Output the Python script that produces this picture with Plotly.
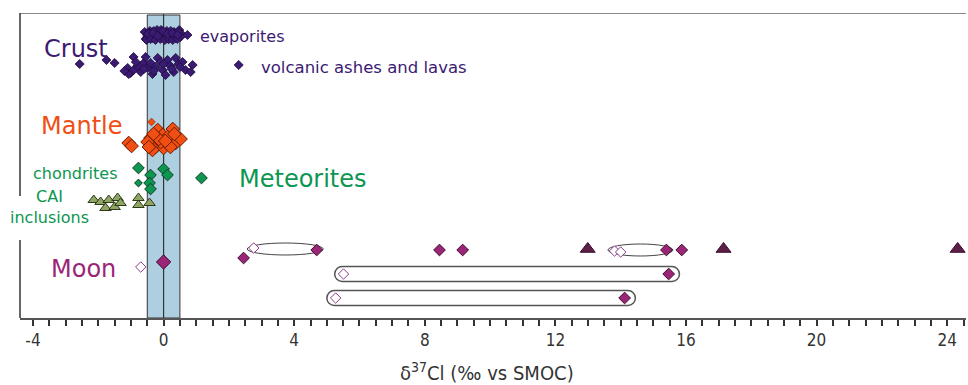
import plotly.graph_objects as go

# ---------------- data (x: delta37Cl permil; y: vertical slot position in the panel) ----------------
evap_x = [-0.58, -0.50, -0.42, -0.35, -0.28, -0.20, -0.12, -0.05, 0.02, 0.10, 0.18, 0.25, 0.32, 0.40, 0.48, 0.55,
          -0.55, -0.46, -0.38, -0.30, -0.22, -0.15, -0.08, 0.00, 0.06, 0.14, 0.22, 0.30, 0.37, 0.45, 0.52,
          -0.52, -0.40, -0.25, -0.10, 0.04, 0.16, 0.28, 0.42, 0.73,
          -0.48, -0.33, -0.18, -0.02, 0.12, 0.27, 0.43]
evap_y = [32, 36, 31, 38, 34, 30, 37, 33, 39, 31, 35, 38, 32, 36, 30, 34,
          39, 33, 35, 31, 38, 34, 30, 36, 33, 39, 31, 35, 38, 32, 37,
          40, 39, 40, 39, 40, 39, 40, 39, 35,
          34, 33, 36, 31, 34, 33, 35]

volc_x = [-2.57, -1.75, -1.50, -1.10, -1.01, -0.92, -0.80, -1.07, -0.70, -0.61, -0.92, -0.55, -0.49, -0.40,
          -0.34, -0.25, -0.18, -0.09, -0.03, 0.06, 0.12, 0.21, 0.31, 0.37, 0.46, 0.58, 0.67, 0.89, 0.83,
          -0.85, -0.60, -0.30, 0.00, 0.25, 0.50, -1.20, 2.30]
volc_y = [64, 60, 63, 68, 73, 70, 66, 74, 72, 63, 57, 57, 68, 63,
          74, 67, 58, 62, 70, 75, 60, 66, 72, 58, 64, 62, 70, 65, 72,
          62, 69, 71, 64, 69, 67, 71, 65]

mantle_x = [-1.07, -0.98, -0.40, -0.18, -0.03, 0.28, 0.43, 0.15, -0.25, 0.00, -0.34, 0.37, -0.49, -0.09,
            0.12, 0.52, -0.15, 0.21, -0.31, 0.05, -0.45, 0.33]
mantle_y = [143, 146, 138, 130, 135, 129, 138, 142, 147, 148, 150, 143, 142, 142,
            137, 139, 139, 147, 134, 141, 147, 134]
mantle_small_x = [-0.37]
mantle_small_y = [122]

chond_x = [-0.77, -0.40, -0.43, -0.40, 0.00, 0.12, 1.16]
chond_y = [168, 175, 183, 189, 169, 175, 178]
chond_small_x = [-0.77]
chond_small_y = [183]

cai_x = [-2.14, -1.93, -1.68, -1.41, -1.78, -1.50, -1.32, -0.77, -0.77, -0.43]
cai_y = [200, 202, 200, 198, 208, 207, 203, 198, 205, 203]

moon_open_x = [-0.70, 2.76, 13.81, 14.00, 5.51, 5.27]
moon_open_y = [267, 248, 251, 252, 274, 298]
moon_fill_x = [4.69, 2.45, 8.45, 9.16, 15.40, 15.87, 15.47, 14.12]
moon_fill_y = [250, 258, 250, 250, 250, 250, 274, 298]
moon_center_x = [0.0]
moon_center_y = [262]
moon_tri_x = [12.99, 17.15, 24.32]
moon_tri_y = [249, 249, 249]

# linked pairs (open -> filled) enclosed by an ellipse or a rounded bar
pair_lo = [2.76, 13.81, 5.51, 5.27]
pair_hi = [4.69, 15.40, 15.47, 14.12]
pair_y = [249, 250, 274, 298]
pair_kind = ["ellipse", "ellipse", "bar", "bar"]

band_lo, band_hi = -0.5, 0.5
tick_vals = [-4, 0, 4, 8, 12, 16, 20, 24]
tick_text = ["-4", "0", "4", "8", "12", "16", "20", "24"]

# ---------------- figure ----------------
X_RANGE = [-4.398, 24.576]
Y_RANGE = [318, 13]
PX_PER_UNIT = 32.65

CRUST = "#3b1a72"
MANTLE = "#f04e12"
GREEN = "#0c9650"
CAI = "#8ea563"
MOON = "#9b2577"
TRI = "#5e1f48"
OPEN = "#8a3a8a"

fig = go.Figure()

def add(x, y, symbol, size, fill, line_col, line_w=1):
    fig.add_trace(go.Scatter(x=x, y=y, mode="markers", hoverinfo="skip",
                             marker=dict(symbol=symbol, size=size, color=fill,
                                         line=dict(color=line_col, width=line_w))))

add(evap_x, evap_y, "diamond", 7, CRUST, "#1e0c40", 0.8)
add(volc_x, volc_y, "diamond", 7, CRUST, "#1e0c40", 0.8)
add(mantle_x, mantle_y, "diamond", 10.5, MANTLE, "#6a1c00", 1)
add(mantle_small_x, mantle_small_y, "diamond", 6, MANTLE, "#6a1c00", 0.5)
add(chond_x, chond_y, "diamond", 9, GREEN, "#0b3a22", 1)
add(chond_small_x, chond_small_y, "diamond", 6, GREEN, "#0b3a22", 1)
add(cai_x, cai_y, "triangle-up", 10, CAI, "#2e3a18", 1)
add(moon_open_x, moon_open_y, "diamond", 8, "white", OPEN, 1)
add(moon_fill_x, moon_fill_y, "diamond", 9, MOON, "#3a0a2a", 1)
add(moon_center_x, moon_center_y, "diamond", 11, MOON, "#3a0a2a", 1)
add(moon_tri_x, moon_tri_y, "triangle-up", 13, TRI, "#3a0a2a", 1)

shapes = []
# blue band and zero line
shapes.append(dict(type="rect", layer="below", x0=band_lo, x1=band_hi, y0=15, y1=318,
                   fillcolor="#aecfe0", line=dict(color="#333333", width=1)))
shapes.append(dict(type="line", layer="below", x0=0, x1=0, y0=13, y1=318,
                   line=dict(color="#333333", width=1.2)))
# frame: top and broken left line
shapes.append(dict(type="line", xref="paper", x0=0, x1=1, y0=13, y1=13,
                   line=dict(color="#8a8a8a", width=2)))
shapes.append(dict(type="line", xref="paper", x0=0, x1=0, y0=13, y1=196,
                   line=dict(color="#333333", width=1.5)))
shapes.append(dict(type="line", xref="paper", x0=0, x1=0, y0=240, y1=318,
                   line=dict(color="#333333", width=1.5)))

k = 0.5523
for lo, hi, yc, kind in zip(pair_lo, pair_hi, pair_y, pair_kind):
    if kind == "ellipse":
        shapes.append(dict(type="circle", layer="below", x0=lo - 0.2, x1=hi + 0.2,
                           y0=yc - 6, y1=yc + 6, line=dict(color="#444444", width=1)))
    else:
        r = 7.5
        rx = r / PX_PER_UNIT
        x0, x1 = lo - 0.27, hi + 0.33
        yt, yb = yc - r, yc + r
        p = (f"M {x0+rx},{yt} L {x1-rx},{yt} "
             f"C {x1-rx+k*rx},{yt} {x1},{yc-k*r} {x1},{yc} "
             f"C {x1},{yc+k*r} {x1-rx+k*rx},{yb} {x1-rx},{yb} "
             f"L {x0+rx},{yb} "
             f"C {x0+rx-k*rx},{yb} {x0},{yc+k*r} {x0},{yc} "
             f"C {x0},{yc-k*r} {x0+rx-k*rx},{yt} {x0+rx},{yt} Z")
        shapes.append(dict(type="path", layer="below", path=p,
                           line=dict(color="#555555", width=1.5)))

FONT = "DejaVu Sans"
NARROW = "Liberation Sans Narrow, DejaVu Sans Condensed, Liberation Sans"

def label(text, x, y, color, size, xanchor="left", align="left"):
    return dict(text=text, x=x, y=y, xref="x", yref="y", xanchor=xanchor, yanchor="middle",
                showarrow=False, align=align, font=dict(family=FONT, size=size, color=color))

annotations = [
    label("Crust", -3.71, 49, CRUST, 24),
    label("evaporites", 1.04, 36, CRUST, 16),
    label("volcanic ashes and lavas", 2.91, 67, CRUST, 16.5),
    label("Mantle", -3.83, 126, MANTLE, 24),
    label("chondrites", -4.07, 173, GREEN, 16),
    label("Meteorites", 2.24, 179, GREEN, 24),
    label("CAI<br>inclusions", -3.49, 207, GREEN, 16, xanchor="center", align="center"),
    label("Moon", -3.52, 269, MOON, 24),
    dict(text="δ<sup>37</sup>Cl (‰ vs SMOC)", x=0.4937, y=-0.177, xref="paper", yref="paper",
         xanchor="center", yanchor="middle", showarrow=False,
         font=dict(family=NARROW, size=20, color="#333333")),
]

fig.update_layout(
    width=968, height=385,
    margin=dict(l=20, r=2, t=13, b=67),
    paper_bgcolor="white", plot_bgcolor="white",
    showlegend=False,
    shapes=shapes, annotations=annotations,
    xaxis=dict(range=X_RANGE, tickmode="array", tickvals=tick_vals, ticktext=tick_text,
               ticks="outside", ticklen=6, tickwidth=1.5, tickcolor="#333333",
               minor=dict(tick0=0, dtick=0.5, ticks="outside", ticklen=6, tickwidth=1.5,
                          tickcolor="#333333", showgrid=False),
               showline=True, linecolor="#555555", linewidth=2, showgrid=False, zeroline=False,
               tickfont=dict(family=NARROW, size=17, color="#333333")),
    yaxis=dict(range=Y_RANGE, visible=False, showgrid=False, zeroline=False),
)

fig.write_html("out.html", config={"displayModeBar": False},
               post_script="document.body.style.margin='0px';document.body.style.overflow='hidden';")
